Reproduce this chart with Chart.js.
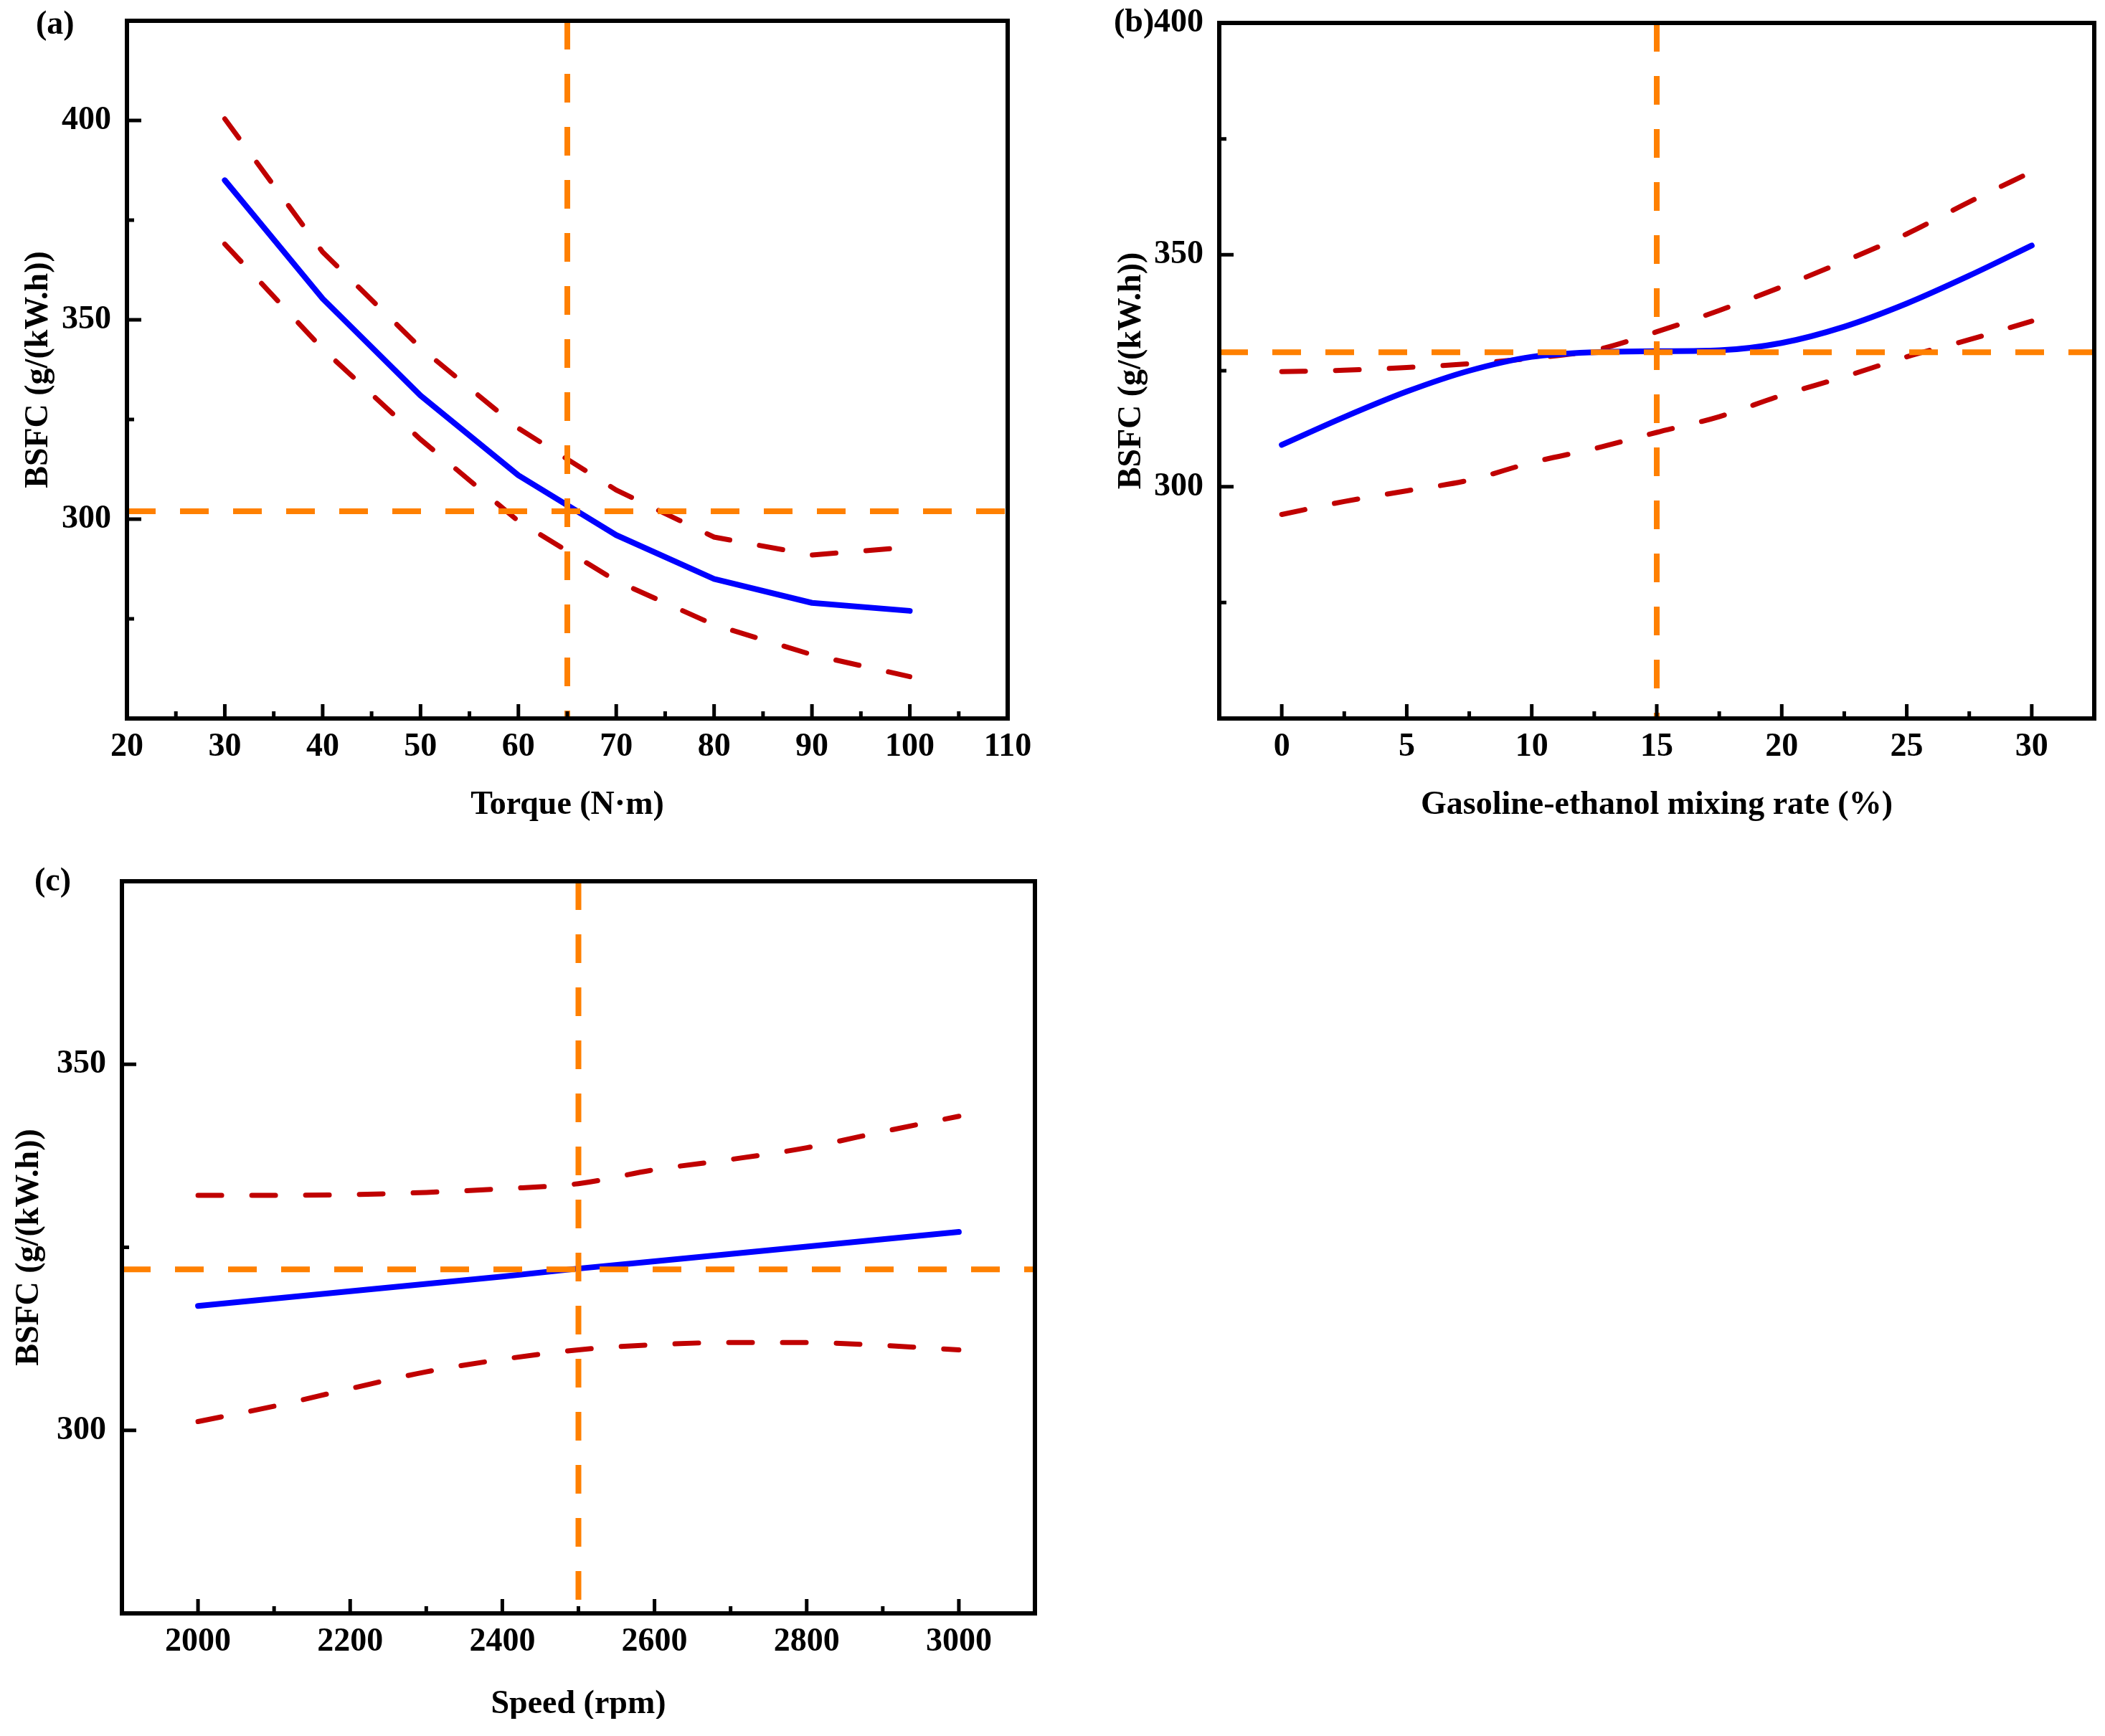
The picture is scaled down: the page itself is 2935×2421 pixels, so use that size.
<!DOCTYPE html>
<html>
<head>
<meta charset="utf-8">
<script src="https://cdn.jsdelivr.net/npm/chart.js@4.4.1/dist/chart.umd.min.js"></script>
<style>
  html, body { margin: 0; padding: 0; background: #fff; }
  body { width: 2935px; height: 2421px; position: relative; overflow: hidden; }
  .panel { position: absolute; overflow: hidden; }
  .tag { position: absolute; font: bold 46px 'Liberation Serif', 'Times New Roman', serif; line-height: 46px; color: #000; }
</style>
</head>
<body>
<div class="panel" style="left:0;top:0;width:1460px;height:1180px"><canvas id="chartA" width="1460" height="1180"></canvas></div>
<div class="panel" style="left:1480px;top:0;width:1455px;height:1180px"><canvas id="chartB" width="1455" height="1180"></canvas></div>
<div class="panel" style="left:0;top:1190px;width:1470px;height:1207px"><canvas id="chartC" width="1470" height="1231"></canvas></div>
<div class="tag" style="left:50px;top:9px">(a)</div>
<div class="tag" style="left:1553px;top:6px">(b)</div>
<div class="tag" style="left:48px;top:1204px">(c)</div>
<script>
// (a) 扭矩 vs BSFC
const torque = [30, 40, 50, 60, 70, 80, 90, 100];
const bsfcTorque = [385, 355.3, 331, 311, 296, 285, 279, 277];
const upperTorque = [400.4, 367, 343, 322.8, 307.3, 295.5, 291, 293];
const lowerTorque = [369, 342.7, 320, 299.5, 284.5, 273.5, 266, 260.5];
const torqueRange = [20, 110];
const bsfcRangeA = [250, 425];
const torqueLabels = [20, 30, 40, 50, 60, 70, 80, 90, 100, 110];
const bsfcLabelsA = [300, 350, 400];
const optimumA = [65, 302];

// (b) 乙醇掺混率 vs BSFC
const mixRate = [0, 2.5, 5, 7.5, 10, 12.5, 15, 17.5, 20, 22.5, 25, 27.5, 30];
const bsfcMix = [309, 315, 320.5, 325, 328, 329, 329.2, 329.4, 331, 334.5, 339.5, 345.5, 352];
const upperMix = [324.8, 325.1, 325.7, 326.5, 327.7, 329.4, 333.4, 338, 343.1, 348.6, 354.5, 361.4, 367.9];
const lowerMix = [294, 296.8, 299.1, 301.4, 305.2, 308.2, 311.7, 315.1, 319.7, 323.7, 328, 331.7, 335.7];
const mixRange = [-2.5, 32.5];
const bsfcRangeB = [250, 400];
const mixLabels = [0, 5, 10, 15, 20, 25, 30];
const bsfcLabelsB = [300, 350, 400];
const optimumB = [15, 329];

// (c) 转速 vs BSFC
const speed = [2000, 2100, 2200, 2300, 2400, 2500, 2600, 2700, 2800, 2900, 3000];
const bsfcSpeed = [317, 318, 319, 320, 321, 322.1, 323.1, 324.1, 325.1, 326.1, 327.1];
const upperSpeed = [332.1, 332.1, 332.2, 332.5, 333, 333.7, 335.6, 337, 338.6, 340.8, 342.9];
const lowerSpeed = [301.2, 303.3, 305.7, 308, 309.7, 311, 311.7, 312, 312, 311.6, 311];
const speedRange = [1900, 3100];
const bsfcRangeC = [275, 375];
const speedLabels = [2000, 2200, 2400, 2600, 2800, 3000];
const bsfcLabelsC = [300, 350];
const optimumC = [2500, 322];

const FONT = "'Liberation Serif', 'Times New Roman', serif";
const BLUE = '#0000FF', RED = '#C00000', ORANGE = '#FF8000';

const has = (list, v) => list.some(l => Math.abs(l - v) < 1e-6);
const pts = (xs, ys) => xs.map((x, i) => ({ x, y: ys[i] }));

// 边框 + 内向刻度
const framePlugin = {
  id: 'frame',
  afterDraw(chart) {
    const { ctx, chartArea: a, scales } = chart;
    const o = chart.options.plugins.frame;
    ctx.save();
    ctx.strokeStyle = '#000';
    ctx.lineWidth = 5;
    ctx.beginPath();
    scales.x.ticks.forEach(t => {
      const px = scales.x.getPixelForValue(t.value);
      if (px < a.left + 4 || px > a.right - 4) return;
      const len = has(o.xMajor, t.value) ? 20 : 10;
      ctx.moveTo(px, a.bottom);
      ctx.lineTo(px, a.bottom - len);
    });
    scales.y.ticks.forEach(t => {
      const py = scales.y.getPixelForValue(t.value);
      if (py < a.top + 4 || py > a.bottom - 4) return;
      const len = has(o.yMajor, t.value) ? 20 : 10;
      ctx.moveTo(a.left, py);
      ctx.lineTo(a.left + len, py);
    });
    ctx.stroke();
    ctx.lineWidth = 6;
    ctx.strokeRect(a.left, a.top, a.right - a.left, a.bottom - a.top);
    ctx.restore();
  }
};

function makeChart(id, p) {
  const curve = p.smooth ? { cubicInterpolationMode: 'monotone' } : { tension: 0 };
  const datasets = [
    { data: [{ x: p.opt[0], y: p.yRange[1] }, { x: p.opt[0], y: p.yRange[0] }],
      borderColor: ORANGE, borderWidth: 8, borderDash: [40, 34], tension: 0 },
    { data: [{ x: p.xRange[0], y: p.opt[1] }, { x: p.xRange[1], y: p.opt[1] }],
      borderColor: ORANGE, borderWidth: 8, borderDash: [40, 34], tension: 0 },
    Object.assign({ data: pts(p.xs, p.fit), borderColor: BLUE, borderWidth: 8,
      borderCapStyle: 'round', borderJoinStyle: 'round' }, p.fitStraight ? { tension: 0 } : curve),
    Object.assign({ data: pts(p.xs, p.upper), borderColor: RED, borderWidth: 7,
      borderDash: [33, 42], borderCapStyle: 'round' }, curve),
    Object.assign({ data: pts(p.xs, p.lower), borderColor: RED, borderWidth: 7,
      borderDash: [33, 42], borderCapStyle: 'round' }, curve)
  ];
  datasets.forEach(d => { d.pointRadius = 0; d.fill = false; });

  const tickFont = { family: FONT, size: 46, weight: 'bold' };
  return new Chart(document.getElementById(id), {
    type: 'line',
    data: { datasets },
    plugins: [framePlugin],
    options: {
      responsive: false,
      animation: false,
      events: [],
      layout: { padding: { left: 0, top: p.top, right: p.right, bottom: 0 } },
      plugins: {
        legend: { display: false },
        tooltip: { enabled: false },
        frame: { xMajor: p.xLabels, yMajor: p.yLabels }
      },
      scales: {
        x: {
          type: 'linear',
          min: p.xRange[0], max: p.xRange[1],
          afterFit: s => { s.height = p.xAxisH; s.paddingLeft = 0; s.paddingRight = 0; },
          border: { display: false },
          grid: { drawOnChartArea: false, drawTicks: true, tickLength: -20, color: 'rgba(0,0,0,0)' },
          ticks: {
            stepSize: p.xStep, autoSkip: false, maxRotation: 0, padding: 33,
            color: '#000', font: tickFont,
            callback: v => has(p.xLabels, v) ? String(v) : ''
          },
          title: { display: true, text: p.xTitle, color: '#000', font: tickFont,
                   padding: { top: 0, bottom: p.xTitlePad } }
        },
        y: {
          type: 'linear',
          min: p.yRange[0], max: p.yRange[1],
          afterFit: s => { s.width = p.left; s.paddingTop = 0; s.paddingBottom = 0; },
          border: { display: false },
          grid: { drawOnChartArea: false, drawTicks: true, tickLength: -20, color: 'rgba(0,0,0,0)' },
          ticks: {
            stepSize: 25, autoSkip: false, padding: 42,
            color: '#000', font: tickFont,
            callback: v => has(p.yLabels, v) ? String(v) : ''
          },
          title: { display: true, text: 'BSFC (g/(kW.h))', color: '#000', font: tickFont,
                   padding: { top: p.yTitlePad, bottom: 0 } }
        }
      }
    }
  });
}

makeChart('chartA', {
  xs: torque, fit: bsfcTorque, upper: upperTorque, lower: lowerTorque,
  xRange: torqueRange, yRange: bsfcRangeA, xLabels: torqueLabels, yLabels: bsfcLabelsA,
  xStep: 5, opt: optimumA, smooth: false,
  xTitle: 'Torque (N·m)',
  left: 177, top: 29, right: 55, xAxisH: 178, yTitlePad: 27, xTitlePad: 29
});

makeChart('chartB', {
  xs: mixRate, fit: bsfcMix, upper: upperMix, lower: lowerMix,
  xRange: mixRange, yRange: bsfcRangeB, xLabels: mixLabels, yLabels: bsfcLabelsB,
  xStep: 2.5, opt: optimumB, smooth: true,
  xTitle: 'Gasoline-ethanol mixing rate (%)',
  left: 220, top: 32, right: 15, xAxisH: 178, yTitlePad: 71, xTitlePad: 29
});

makeChart('chartC', {
  xs: speed, fit: bsfcSpeed, upper: upperSpeed, lower: lowerSpeed,
  xRange: speedRange, yRange: bsfcRangeC, xLabels: speedLabels, yLabels: bsfcLabelsC,
  xStep: 100, opt: optimumC, smooth: true, fitStraight: true,
  xTitle: 'Speed (rpm)',
  left: 170, top: 39, right: 27, xAxisH: 171, yTitlePad: 14, xTitlePad: 16
});
</script>
</body>
</html>
